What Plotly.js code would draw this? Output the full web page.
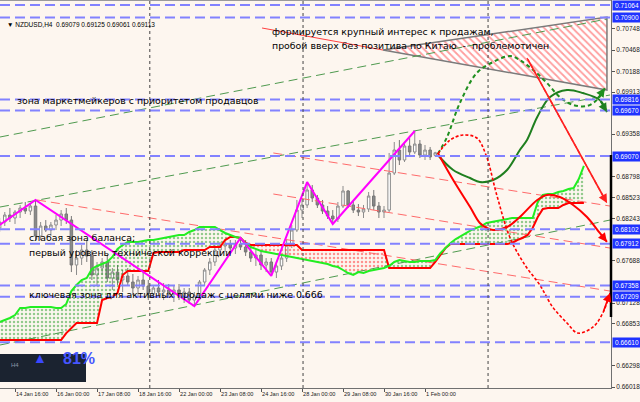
<!DOCTYPE html>
<html><head><meta charset="utf-8">
<script src="https://cdn.plot.ly/plotly-3.0.1.min.js"></script>
<style>html,body{margin:0;padding:0;background:#fdf6ef;}#chart{width:640px;height:402px;}</style>
</head><body><div id="chart"></div>
<script>
// ---- DATA (H4 bars, index 0 = 14 Jan 16:00) ----
const firstBar = -3;
const candleOpen = [0.68119,0.68198,0.68290,0.68251,0.68330,0.68383,0.68343,0.68409,0.68013,0.68145,0.68092,0.68158,0.68224,0.68304,
 0.68224,
 0.67630,0.67722,0.67828,0.67749,0.67498,0.67590,0.67670,0.67458,0.67537,0.67432,
 0.67485,0.67405,0.67326,0.67432,0.67353,0.67247,0.67326,0.67273,0.67300,0.67247,
 0.67300,0.67220,0.67273,0.67167,0.67220,0.67405,0.67564,0.67670,0.67828,0.67881,
 0.67907,0.67854,0.67907,0.67868,0.67802,0.67722,0.67762,0.67630,0.67670,0.67537,
 0.67617,0.67722,0.67894,0.68092,0.68356,0.68423,0.68621,0.68515,0.68423,0.68343,
 0.68277,0.68238,0.68409,0.68608,0.68423,0.68356,0.68330,0.68370,0.68541,0.68409,
 0.68330,0.68356,0.68845,0.69149,0.69017,0.69202,0.69123,0.69228,0.69083,0.69149,0.69079];
const candleHigh = [0.68251,0.68330,0.68383,0.68356,0.68423,0.68462,0.68449,0.68489,0.68198,0.68224,0.68198,0.68290,0.68356,0.68383,
 0.68277,
 0.67828,0.67894,0.67960,0.67828,0.67670,0.67722,0.67762,0.67590,0.67630,0.67564,
 0.67590,0.67511,0.67485,0.67537,0.67432,0.67366,0.67432,0.67392,0.67379,0.67366,
 0.67379,0.67326,0.67326,0.67273,0.67432,0.67590,0.67722,0.67894,0.67934,0.67960,
 0.67960,0.67960,0.67987,0.67960,0.67881,0.67828,0.67828,0.67722,0.67722,0.67670,
 0.67762,0.67960,0.68158,0.68489,0.68515,0.68726,0.68687,0.68555,0.68489,0.68409,
 0.68356,0.68462,0.68674,0.68621,0.68489,0.68436,0.68423,0.68594,0.68621,0.68462,
 0.68409,0.69110,0.69255,0.69281,0.69255,0.69308,0.69400,0.69281,0.69215,0.69189,0.69125];
const candleLow = [0.68066,0.68145,0.68198,0.68172,0.68251,0.68304,0.68290,0.67960,0.67960,0.68066,0.68013,0.68092,0.68145,0.68172,
 0.67537,
 0.67498,0.67630,0.67670,0.67432,0.67366,0.67498,0.67405,0.67300,0.67366,0.67273,
 0.67366,0.67233,0.67220,0.67300,0.67167,0.67194,0.67220,0.67167,0.67194,0.67141,
 0.67167,0.67128,0.67115,0.67088,0.67194,0.67353,0.67498,0.67617,0.67749,0.67802,
 0.67802,0.67775,0.67828,0.67749,0.67670,0.67617,0.67564,0.67537,0.67485,0.67458,
 0.67564,0.67670,0.67854,0.68066,0.68251,0.68383,0.68462,0.68383,0.68304,0.68238,
 0.68172,0.68198,0.68383,0.68383,0.68317,0.68277,0.68251,0.68330,0.68356,0.68251,
 0.68251,0.68330,0.68819,0.68951,0.68991,0.69070,0.69096,0.69044,0.69017,0.69017,0.69061];
const candleClose = [0.68198,0.68290,0.68251,0.68330,0.68383,0.68343,0.68409,0.68013,0.68145,0.68092,0.68158,0.68224,0.68304,0.68224,
 0.67630,
 0.67722,0.67828,0.67749,0.67498,0.67590,0.67670,0.67458,0.67537,0.67432,0.67485,
 0.67405,0.67326,0.67432,0.67353,0.67247,0.67326,0.67273,0.67300,0.67247,0.67300,
 0.67220,0.67273,0.67167,0.67220,0.67405,0.67564,0.67670,0.67828,0.67881,0.67907,
 0.67854,0.67907,0.67868,0.67802,0.67722,0.67762,0.67630,0.67670,0.67537,0.67617,
 0.67722,0.67894,0.68092,0.68356,0.68423,0.68621,0.68515,0.68423,0.68343,0.68277,
 0.68238,0.68409,0.68608,0.68423,0.68356,0.68330,0.68370,0.68541,0.68409,0.68330,
 0.68356,0.68845,0.69149,0.69017,0.69202,0.69123,0.69228,0.69083,0.69149,0.69057,0.69113];

// Ichimoku senkou spans (shifted 26 bars ahead)
const spanA = [0.66877,0.66903,0.66930,0.66969,0.67062,0.67062,0.67075,0.67075,0.67075,0.67075,0.67075,0.67062,0.67062,0.67115,
 0.67286,0.67366,0.67432,0.67458,0.67577,0.67617,0.67643,0.67670,0.67736,0.67841,
 0.67894,0.67934,0.67934,0.67934,0.67947,0.67960,0.67960,0.67973,0.67987,0.68000,
 0.68013,0.68026,0.68026,0.68066,0.68092,0.68132,0.68132,0.68132,0.68132,0.68092,
 0.68053,0.68026,0.68000,0.67987,0.67907,0.67868,0.67841,0.67815,0.67802,0.67788,
 0.67775,0.67762,0.67749,0.67736,0.67722,0.67709,0.67696,0.67683,0.67670,0.67656,
 0.67643,0.67617,0.67603,0.67564,0.67524,0.67498,0.67537,0.67524,0.67551,0.67564,
 0.67577,0.67590,0.67617,0.67670,0.67696,0.67683,0.67670,0.67670,0.67683,0.67683,
 0.67683,0.67696,0.67788,0.67854,0.67921,0.67973,0.68013,0.68053,0.68092,0.68119,
 0.68145,0.68185,0.68198,0.68211,0.68224,0.68238,0.68251,0.68251,0.68251,0.68251,
 0.68251,0.68462,0.68555,0.68568,0.68568,0.68594,0.68608,0.68634,0.68647,0.68766,0.68938];
const spanB = [0.66639,0.66639,0.66639,0.66639,0.66639,0.66639,0.66639,0.66639,0.66639,0.66639,0.66639,0.66639,0.66639,0.66731,
 0.66797,0.66864,0.66864,0.66864,0.66864,0.66864,0.67167,0.67194,0.67207,0.67260,
 0.67498,0.67551,0.67551,0.67551,0.67551,0.67551,0.67788,0.67802,0.67802,0.67802,
 0.67802,0.67802,0.67828,0.67828,0.67828,0.67828,0.67828,0.67868,0.67868,0.67868,
 0.67960,0.68000,0.68000,0.67987,0.67921,0.67894,0.67894,0.67894,0.67894,0.67894,
 0.67894,0.67894,0.67894,0.67894,0.67894,0.67828,0.67828,0.67828,0.67828,0.67828,
 0.67828,0.67828,0.67828,0.67828,0.67828,0.67828,0.67828,0.67828,0.67828,0.67828,
 0.67828,0.67828,0.67590,0.67590,0.67590,0.67590,0.67590,0.67590,0.67590,0.67590,
 0.67590,0.67670,0.67762,0.67854,0.67907,0.67907,0.67907,0.67907,0.67907,0.67907,
 0.67907,0.67907,0.67907,0.67907,0.67907,0.67907,0.67921,0.67960,0.67987,0.68026,
 0.68119,0.68264,0.68370,0.68383,0.68383,0.68383,0.68423,0.68449,0.68449,0.68449,0.68449];

const zigzagBars = [-3, 4, 35, 44, 50, 57, 62, 78];
const zigzagPrices = [0.68158, 0.68489, 0.67088, 0.67987, 0.67485, 0.68726, 0.68172, 0.69400];

// forecast curves
const greenSolidBars = [82.5, 85.5, 88.8, 90.7, 93.3, 96, 98.5, 99.9, 101.9, 104.4, 107.7, 110.8, 114.1, 115.5];
const greenSolidPrices = [0.69083, 0.68885, 0.68779, 0.68726, 0.68753, 0.68885, 0.69149, 0.69281, 0.69585, 0.69849, 0.69942, 0.69902, 0.69809, 0.69651];
const greenDashBars = [82.5, 84.3, 86.8, 90.1, 93.3, 96.6, 98.5, 101.1, 103.8, 106.3, 108.9, 111.6, 113.5, 115.1];
const greenDashPrices = [0.69096, 0.69321, 0.69770, 0.70167, 0.70312, 0.70391, 0.70338, 0.70206, 0.70034, 0.69849, 0.69744, 0.69731, 0.69809, 0.69968];
const redSolidBars = [82.5, 85.5, 88.8, 90.7, 92.1, 93.3, 96, 98.5, 101.9, 103.8, 106.3, 108.9, 111.6, 114.1, 115.5];
const redSolidPrices = [0.69110, 0.68753, 0.68396, 0.68185, 0.68119, 0.68092, 0.68132, 0.68264, 0.68489, 0.68555, 0.68528, 0.68423, 0.68264, 0.68053, 0.67934];
const redDotBars = [82.5, 84.9, 87.4, 90.1, 91.9, 94.0, 96.6, 99.5, 102.4, 104.9, 107.7, 109.8, 112.8, 114.7, 116.1];
const redDotPrices = [0.69096, 0.69281, 0.69347, 0.69308, 0.69083, 0.68555, 0.67987, 0.67630, 0.67366, 0.67075, 0.66864, 0.66731, 0.66811, 0.66996, 0.67260];
const redArrowBars = [99.9, 115.5];
const redArrowPrices = [0.70365, 0.68449];

// trend lines
const greenLine1Bars = [-2.93, 115.5], greenLine1Prices = [0.69321, 0.70880];
const greenLine2Bars = [-2.93, 116.1], greenLine2Prices = [0.68396, 0.69876];
const greenLine3Bars = [-2.93, 116.1], greenLine3Prices = [0.66573, 0.68224];
const redLine1Bars = [4.3, 116.1], redLine1Prices = [0.68489, 0.67286];
const redLine2Bars = [50.4, 116.1], redLine2Prices = [0.69110, 0.68409];
const redLine3Bars = [50.4, 116.1], redLine3Prices = [0.68568, 0.67854];
const redThinBars = [48.2, 71.8], redThinPrices = [0.70761, 0.70470];
const triangleBars = [71.8, 115.5, 115.5, 71.8];
const trianglePrices = [0.70470, 0.70905, 0.69942, 0.70470];

const levels = [0.71064, 0.70900, 0.69816, 0.69670, 0.69070, 0.68102, 0.67912, 0.67358, 0.67209, 0.66610];
const priceTicks = [0.66018,0.66298,0.66853,0.67128,0.67688,0.68243,0.68523,0.68798,0.69358,0.69913,0.70188,0.70468,0.70748];
const tickBars = [0, 8, 16, 24, 32, 40, 48, 56, 64, 72, 80];
const tickLabels = ["14 Jan 16:00","16 Jan 00:00","17 Jan 08:00","18 Jan 16:00","22 Jan 00:00","23 Jan 08:00","24 Jan 16:00","28 Jan 00:00","29 Jan 08:00","30 Jan 16:00","1 Feb 00:00"];
const separatorBars = [26.3, 56.2, 92.3];

// ---- BUILD ----
const candleX = candleOpen.map((_, i) => firstBar + i);
const cloudX = spanA.map((_, i) => firstBar + i);
const BG = '#fdf6ef';
const traces = [];

const cloudRegions = [[-3, 44, '#2a9d2a'], [44, 72, '#ff3030'], [72, 111, '#2a9d2a']];
cloudRegions.forEach(([a, b, col]) => {
  const i0 = a - firstBar, i1 = b - firstBar + 1;
  traces.push({type:'scatter', mode:'lines', x: cloudX.slice(i0, i1), y: spanB.slice(i0, i1), line:{width:0}, hoverinfo:'skip'});
  traces.push({type:'scatter', mode:'lines', x: cloudX.slice(i0, i1), y: spanA.slice(i0, i1), line:{width:0}, fill:'tonexty',
    fillcolor:'rgba(0,0,0,0)', fillpattern:{shape:'.', fgcolor:col, bgcolor:'rgba(0,0,0,0)', size:4, solidity:0.3, fillmode:'overlay'}, hoverinfo:'skip'});
});

// hatched triangle
traces.push({type:'scatter', mode:'lines', x: triangleBars, y: trianglePrices, fill:'toself', fillcolor:'#ffffff',
  fillpattern:{shape:'\\', fgcolor:'#ff3c3c', bgcolor:'#ffffff', size:5, solidity:0.35, fillmode:'overlay'},
  line:{color:'#7a7a7a', width:1.5}});

function line(x, y, color, width, dash, shape) {
  traces.push({type:'scatter', mode:'lines', x, y, line:{color, width, dash: dash || 'solid', shape: shape || 'linear', smoothing:1}});
}
line(greenLine1Bars, greenLine1Prices, '#4f9a4f', 1, '9px,5px');
line(greenLine2Bars, greenLine2Prices, '#4f9a4f', 1, '9px,5px');
line(greenLine3Bars, greenLine3Prices, '#4f9a4f', 1, '9px,5px');
line(redLine1Bars, redLine1Prices, '#ff6a6a', 1, '9px,5px');
line(redLine2Bars, redLine2Prices, '#ff6a6a', 1, '9px,5px');
line(redLine3Bars, redLine3Prices, '#ff6a6a', 1, '9px,5px');
line(redThinBars, redThinPrices, '#ff4040', 1);

// Ichimoku lines
line(cloudX, spanB, '#ff0000', 2);
line(cloudX, spanA, '#22ee22', 2);

// candles
traces.push({type:'candlestick', x: candleX, open: candleOpen, high: candleHigh, low: candleLow, close: candleClose,
  increasing:{line:{color:'#8c8c8c', width:1}, fillcolor:'#ffffff'},
  decreasing:{line:{color:'#777777', width:1}, fillcolor:'#8a8a8a'},
  whiskerwidth:0, hoverinfo:'skip'});

// zigzag
line(zigzagBars, zigzagPrices, '#ff00ff', 2);

// forecasts
line(greenSolidBars, greenSolidPrices, '#1f7f1f', 2, 'solid', 'spline');
line(greenDashBars, greenDashPrices, '#1f8f1f', 2, '4px,3px', 'spline');
line(redSolidBars, redSolidPrices, '#ff0000', 2, 'solid', 'spline');
line(redDotBars, redDotPrices, '#ff0000', 1.6, '3px,2px', 'spline');
line(redArrowBars, redArrowPrices, '#ff2020', 1.3, '4px,3px');

const annotations = [];
function arrowHead(xs, ys, color) {
  const n = xs.length;
  annotations.push({x: xs[n-1], y: ys[n-1], ax: xs[n-2], ay: ys[n-2], xref:'x', yref:'y', axref:'x', ayref:'y',
    showarrow:true, arrowhead:2, arrowsize:1.1, arrowwidth:1.6, arrowcolor:color, text:''});
}
arrowHead(greenSolidBars, greenSolidPrices, '#1f7f1f');
arrowHead(greenDashBars, greenDashPrices, '#1f8f1f');
arrowHead(redSolidBars, redSolidPrices, '#ff0000');
arrowHead(redDotBars, redDotPrices, '#ff0000');
arrowHead(redArrowBars, redArrowPrices, '#ff2020');

const W = 611, H = 388;
const px = x => x / W, py = y => (H - y) / H;
const txtFont = {family:'DejaVu Sans', size:9.4, color:'#000'};
function note(text, x, y) {
  annotations.push({text, xref:'paper', yref:'paper', x:px(x), y:py(y), xanchor:'left', yanchor:'middle', showarrow:false, font:txtFont});
}
note('формируется крупный интерес к продажам,', 270, 31);
note('пробой вверх без позитива по Китаю  -  проблемотичен', 270, 45);
note('зона маркетмейкеров с приоритетом продавцов', 15, 101);
note('слабая зона баланса;', 27, 237);
note('первый уровень технической коррекции', 27, 252);
note('ключевая зона для активных продаж с целями ниже 0.666', 27, 294);

annotations.push({text:'▼ NZDUSD,H4  0.69079 0.69125 0.69061 0.69113', xref:'paper', yref:'paper', x:px(5), y:py(24),
  xanchor:'left', yanchor:'middle', showarrow:false, font:{family:'Liberation Sans', size:6.5, color:'#000'}});

levels.forEach(v => {
  annotations.push({text: v.toFixed(5), xref:'paper', yref:'y', x:1, y:v, xanchor:'left', yanchor:'middle', xshift:1,
    showarrow:false, font:{family:'Liberation Sans', size:6.5, color:'#ffffff'}, bgcolor:'#1f33ff', borderpad:1, width:26});
});

// sentiment inset
annotations.push({text:'▲', xref:'paper', yref:'paper', x:px(31), y:py(369), showarrow:false, font:{size:14, color:'#3a48ff'}});
annotations.push({text:'<b>81%</b>', xref:'paper', yref:'paper', x:px(61), y:py(369), showarrow:false, font:{family:'Liberation Sans', size:16, color:'#4656ff'}});
annotations.push({text:'H4', xref:'paper', yref:'paper', x:px(9), y:py(370), showarrow:false, font:{family:'Liberation Sans', size:6, color:'#8a96a8'}});

const shapes = [];
levels.forEach(v => shapes.push({type:'line', xref:'paper', x0:0, x1:1, yref:'y', y0:v, y1:v, line:{color:'#8282ff', width:2, dash:'10px,5px'}}));
separatorBars.forEach(b => shapes.push({type:'line', xref:'x', x0:b, x1:b, yref:'paper', y0:0, y1:1, line:{color:'#444', width:1, dash:'dot'}}));
shapes.push({type:'line', xref:'paper', x0:0, x1:1, yref:'paper', y0:1, y1:1, line:{color:'#9a9a9a', width:2}});
shapes.push({type:'line', xref:'paper', x0:1, x1:1, yref:'y', y0:0.69083, y1:0.66943, line:{color:'#000', width:2.5}});
shapes.push({type:'rect', xref:'paper', x0:0, x1:px(86), yref:'paper', y0:py(382), y1:py(354), fillcolor:'#1b2330', line:{width:0}});

const layout = {
  width:640, height:402, autosize:false,
  margin:{l:0, r:29, t:0, b:14},
  paper_bgcolor:BG, plot_bgcolor:BG,
  showlegend:false, hovermode:false,
  xaxis:{range:[-2.93, 116.29], tickvals:tickBars, ticktext:tickLabels, ticks:'outside', ticklen:3, tickcolor:'#555',
    tickangle:0, tickfont:{family:'Liberation Sans', size:5.6, color:'#222'}, ticklabelposition:'outside right',
    showgrid:false, zeroline:false, showline:true, linecolor:'#707070', linewidth:1, rangeslider:{visible:false}},
  yaxis:{range:[0.66005, 0.71131], side:'right', tickvals:priceTicks, ticktext:priceTicks.map(v => v.toFixed(5)),
    ticks:'outside', ticklen:3, tickcolor:'#555', tickfont:{family:'Liberation Sans', size:6.5, color:'#222'},
    showgrid:false, zeroline:false, showline:true, linecolor:'#707070', linewidth:1},
  shapes, annotations
};
Plotly.newPlot('chart', traces, layout, {staticPlot:true, displayModeBar:false});
</script></body></html>
